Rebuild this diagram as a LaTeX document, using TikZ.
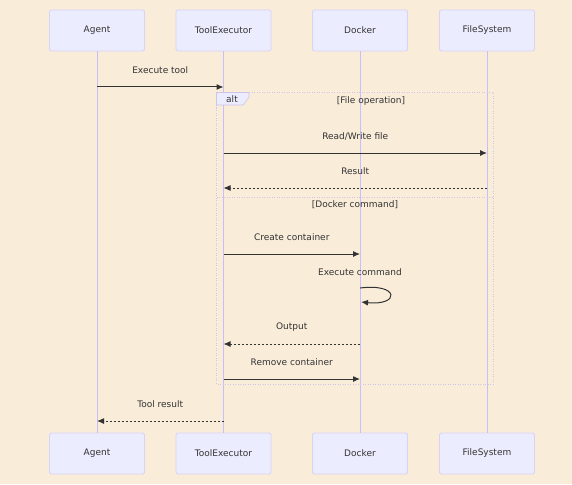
\documentclass[tikz,border=0pt]{standalone}
\usepackage{fontspec}
\setmainfont{DejaVu Sans}
\usepackage{xcolor}
\usetikzlibrary{arrows.meta}
\usetikzlibrary{math}
\definecolor{mybg}{RGB}{249,237,218}
\definecolor{myfill}{RGB}{236,236,255}
\definecolor{myborder}{RGB}{218,210,244}
\definecolor{myline}{RGB}{200,190,250}
\definecolor{mybox}{RGB}{205,196,232}
\definecolor{mytext}{RGB}{51,51,51}

\tikzset{
actor/.style={draw=myborder, fill=myfill, rounded corners=1.5pt, minimum width=95pt, minimum height=41pt, line width=0.8pt, text=mytext, font=\fontsize{9}{10}\selectfont},
lbl/.style={text=mytext, font=\fontsize{9}{10}\selectfont, inner sep=1pt},
lifeline/.style={draw=myline, line width=1pt},
msg/.style={-{Latex[length=7pt,width=6pt]}, draw=mytext, line width=1pt},
reply/.style={msg, dash pattern=on 2pt off 2pt},
altbox/.style={draw=mybox, line width=0.8pt, dash pattern=on 1pt off 1.5pt}
}

\begin{document}
\begin{tikzpicture}[x=1pt,y=-1pt]
\tikzmath{
\xA=97; \xT=223.5; \xD=360; \xF=487;
\yt=30.5; \yb=453.5;
}
\fill[mybg] (0,0) rectangle (572,484);

\node[actor] (A1) at (\xA,\yt) {Agent};
\node[actor] (T1) at (\xT,\yt) {ToolExecutor};
\node[actor] (D1) at (\xD,\yt) {Docker};
\node[actor] (F1) at (\xF,\yt) {FileSystem};
\node[actor] (A2) at (\xA,\yb) {Agent};
\node[actor] (T2) at (\xT,\yb) {ToolExecutor};
\node[actor] (D2) at (\xD,\yb) {Docker};
\node[actor] (F2) at (\xF,\yb) {FileSystem};

\draw[lifeline] (A1) -- (A2);
\draw[lifeline] (T1) -- (T2);
\draw[lifeline] (D1) -- (D2);
\draw[lifeline] (F1) -- (F2);

\draw[altbox] (216.5,92.5) rectangle (493,384);
\draw[draw=mybox, fill=myfill, line width=0.6pt] (216.5,92.5) -- (249,92.5) -- (249,97) -- (243,105) -- (216.5,105) -- cycle;
\node[lbl] (alt) at (232,99.5) {alt};
\node[lbl] (c1) at (371,101) {[File operation]};
\draw[altbox] (216.5,197) -- (493,197);
\node[lbl] (c2) at (355,205) {[Docker command]};

\coordinate (m1a) at (\xA,87); \coordinate (m1b) at (\xT,87);
\draw[msg] (m1a) -- (m1b) node[lbl, midway, yshift=17pt] (t1) {Execute tool};

\coordinate (m2a) at (\xT,153); \coordinate (m2b) at (\xF,153);
\draw[msg] (m2a) -- (m2b) node[lbl, midway, yshift=17pt] (t2) {Read/Write file};

\coordinate (m3a) at (\xF,188); \coordinate (m3b) at (\xT,188);
\draw[reply] (m3a) -- (m3b) node[lbl, midway, yshift=17pt] (t3) {Result};

\coordinate (m4a) at (\xT,254); \coordinate (m4b) at (\xD,254);
\draw[msg] (m4a) -- (m4b) node[lbl, midway, yshift=17pt] (t4) {Create container};

\coordinate (m5a) at (\xD,288); \coordinate (m5b) at (\xD+1,302);
\node[lbl] (t5) at (\xD,272) {Execute command};
\draw[msg] (m5a) .. controls (\xD+40,283) and (\xD+40,306) .. (m5b);

\coordinate (m6a) at (\xD,344); \coordinate (m6b) at (\xT,344);
\draw[reply] (m6a) -- (m6b) node[lbl, midway, yshift=17pt] (t6) {Output};

\coordinate (m7a) at (\xT,379); \coordinate (m7b) at (\xD,379);
\draw[msg] (m7a) -- (m7b) node[lbl, midway, yshift=17pt] (t7) {Remove container};

\coordinate (m8a) at (\xT,421); \coordinate (m8b) at (\xA,421);
\draw[reply] (m8a) -- (m8b) node[lbl, midway, yshift=17pt] (t8) {Tool result};

\end{tikzpicture}
\end{document}
